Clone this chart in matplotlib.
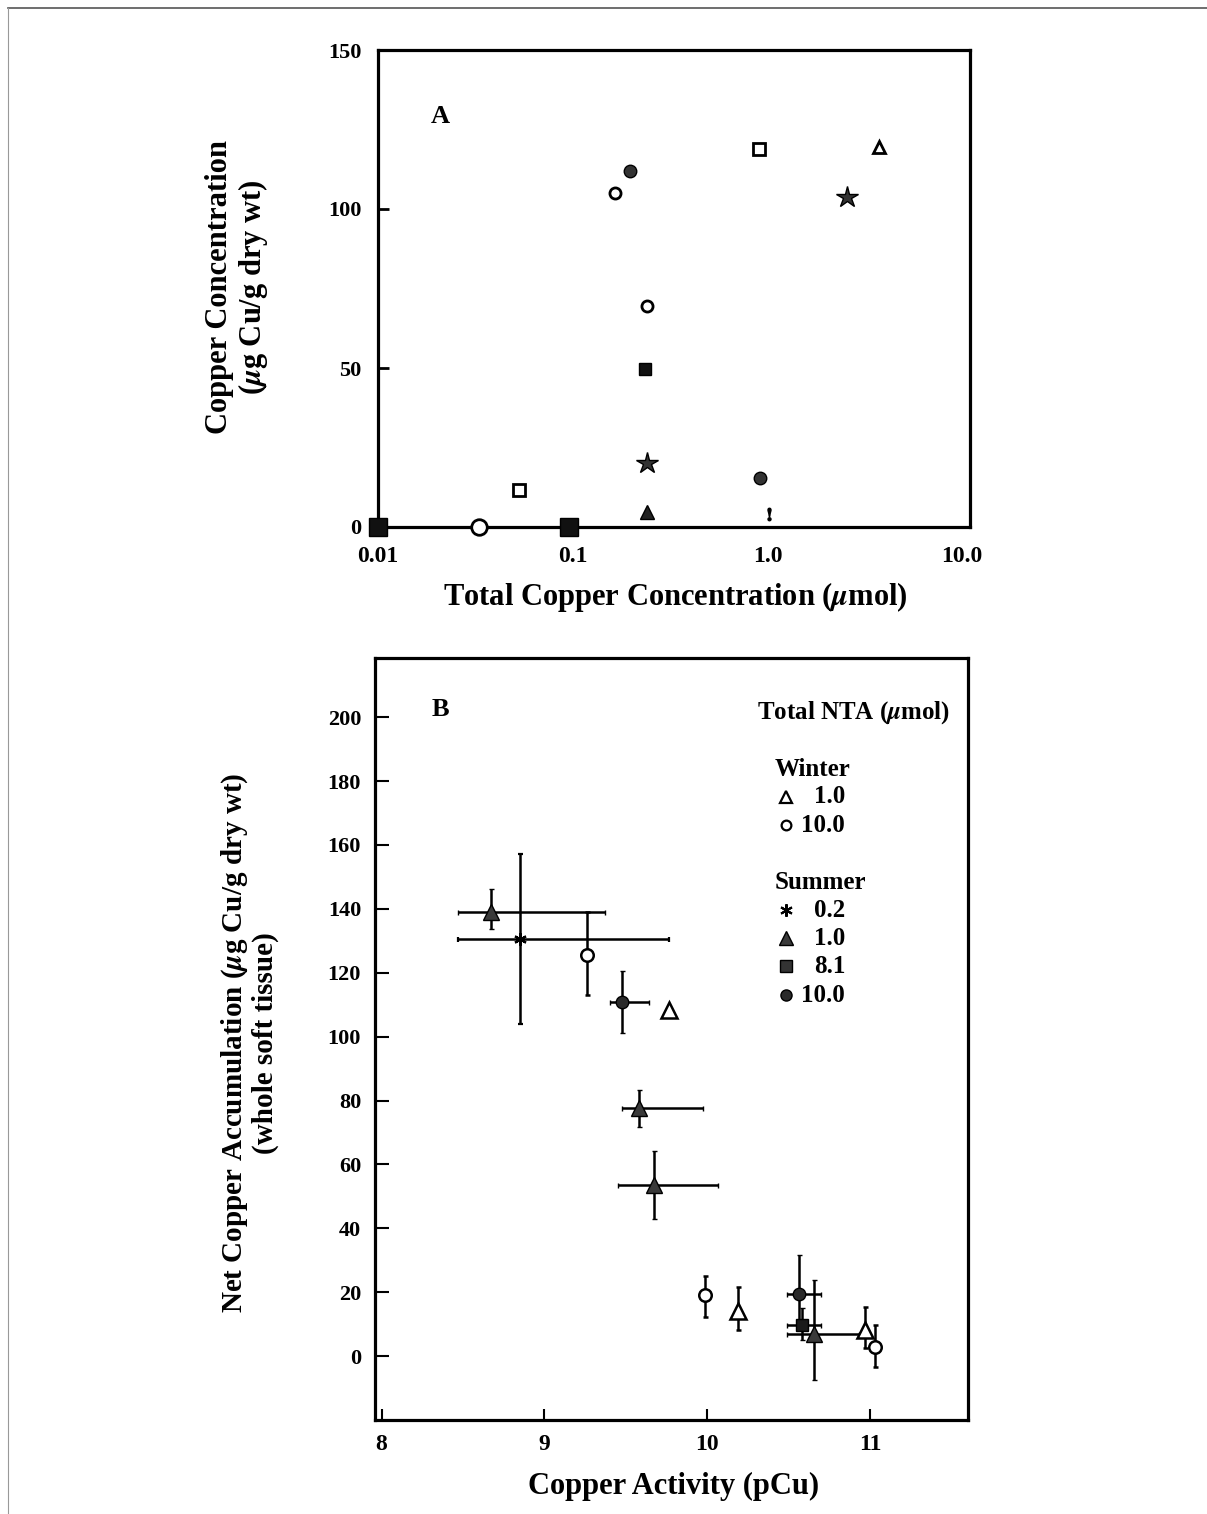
import numpy as np
import matplotlib
matplotlib.use("Agg")
import matplotlib.pyplot as plt
from matplotlib.lines import Line2D

plt.rcParams['font.family'] = ['Liberation Serif', 'DejaVu Serif']
plt.rcParams['font.weight'] = 'bold'
plt.rcParams['axes.labelweight'] = 'bold'
plt.rcParams['mathtext.fontset'] = 'stix'

# ---- Panel A data: tissue Cu vs total Cu (umol)
a_open_sq_x = [0.053, 0.90]
a_open_sq_y = [11.6, 118.9]
a_open_circ_x = [0.033, 0.165, 0.24]
a_open_circ_y = [0, 105, 69.5]
a_fill_sq_x = [0.01, 0.096, 0.236]
a_fill_sq_y = [0, 0, 49.7]
a_fill_circ_x = [0.197, 0.92]
a_fill_circ_y = [112, 15.4]
a_star_x = [0.24, 2.57]
a_star_y = [20, 103.8]
a_open_tri_x = [3.76]
a_open_tri_y = [119.5]
a_fill_tri_x = [0.24]
a_fill_tri_y = [4.7]
a_mark_x = [1.02]
a_mark_y = [4.1]

a_yticks = [0, 50, 100, 150]
a_xticks = [0.01, 0.1, 1.0, 10.0]
a_xticklabels = ['0.01', '0.1', '1.0', '10.0']

# ---- Panel B data: net Cu accumulation vs pCu
# summer 1.0 NTA (filled triangle)
s1_x = [8.673, 9.579, 9.675, 10.656]
s1_y = [139.1, 77.5, 53.5, 6.9]
s1_xlo = [8.468, 9.477, 9.45, 10.49]
s1_xhi = [9.374, 9.975, 10.063, 10.93]
s1_ylo = [133.6, 71.6, 42.8, -7.5]
s1_yhi = [146.1, 83.3, 64.3, 23.8]
# summer 0.2 NTA (star)
s02_x = [8.847]
s02_y = [130.4]
s02_xlo = [8.468]
s02_xhi = [9.763]
s02_ylo = [103.9]
s02_yhi = [157.1]
# summer 10.0 NTA (filled circle)
s10_x = [9.477, 10.56]
s10_y = [110.7, 19.3]
s10_xlo = [9.40, 10.49]
s10_xhi = [9.644, 10.70]
s10_ylo = [101.2, 10.3]
s10_yhi = [120.6, 31.6]
# summer 8.1 NTA (filled square)
s81_x = [10.58]
s81_y = [9.7]
s81_xlo = [10.49]
s81_xhi = [10.70]
s81_ylo = [5.0]
s81_yhi = [15.0]
# winter 10.0 NTA (open circle)
w10_x = [9.26, 9.988, 11.03]
w10_y = [125.5, 19.1, 2.9]
w10_ylo = [113.0, 12.3, -3.3]
w10_yhi = [139.1, 25.0, 9.7]
# winter 1.0 NTA (open triangle)
w1_x = [9.763, 10.19, 10.97]
w1_y = [108.3, 14.2, 8.1]
w1_ylo = [108.3, 8.1, 2.5]
w1_yhi = [108.3, 21.7, 15.4]

b_yticks = list(range(0, 201, 20))
b_xticks = [8, 9, 10, 11]

W, H = 1207, 1514
fig = plt.figure(figsize=(W / 100, H / 100), dpi=100)

# page frame lines
fig.add_artist(Line2D([8 / W, 1], [1 - 8 / H, 1 - 8 / H], color='#555555', lw=1.2))
fig.add_artist(Line2D([8 / W, 8 / W], [0, 1 - 8 / H], color='#999999', lw=0.8))


def style_axes(ax):
    for s in ax.spines.values():
        s.set_linewidth(2.3)
    ax.tick_params(labelsize=16)


# ================= Panel A
axA = fig.add_axes([378 / W, 1 - 527 / H, 592 / W, 477 / H])
style_axes(axA)
axA.set_xscale('log')
axA.set_xlim(0.01, 10.97)
axA.set_ylim(0, 150)

def pick(xs, ys, zero):
    xs, ys = np.array(xs), np.array(ys)
    m = (ys == 0) if zero else (ys != 0)
    return xs[m], ys[m]

kw = dict(ls='none', clip_on=False, zorder=5)
for zero, big in ((False, 1.0), (True, 1.4)):
    x, y = pick(a_open_sq_x, a_open_sq_y, zero)
    axA.plot(x, y, marker='s', ms=8 * big, mfc='white', mec='black', mew=2, **kw)
    x, y = pick(a_open_circ_x, a_open_circ_y, zero)
    axA.plot(x, y, marker='o', ms=8 * big, mfc='white', mec='black', mew=2, **kw)
    x, y = pick(a_fill_sq_x, a_fill_sq_y, zero)
    axA.plot(x, y, marker='s', ms=9 * big, mfc='#111111', mec='black', mew=1, **kw)
    x, y = pick(a_fill_circ_x, a_fill_circ_y, zero)
    axA.plot(x, y, marker='o', ms=9 * big, mfc='#333333', mec='black', mew=1, **kw)
axA.plot(a_star_x, a_star_y, marker='*', ms=16, mfc='#333333', mec='black', mew=1, **kw)
axA.plot(a_open_tri_x, a_open_tri_y, marker='^', ms=9, mfc='white', mec='black', mew=2, **kw)
axA.plot(a_fill_tri_x, a_fill_tri_y, marker='^', ms=10, mfc='#222222', mec='black', mew=1, **kw)
axA.plot(a_mark_x, a_mark_y, marker='$!$', ms=9, color='black', **kw)

axA.set_yticks(a_yticks)
axA.set_xticks(a_xticks)
axA.set_xticklabels(a_xticklabels)
axA.xaxis.set_minor_locator(matplotlib.ticker.NullLocator())
axA.tick_params(axis='y', direction='in', length=8, width=2, pad=12)
axA.tick_params(axis='x', direction='in', length=0, pad=14, labelsize=17)
axA.text(0.106, 0.86, 'A', transform=axA.transAxes, fontsize=19,
         ha='center', va='center')
axA.set_xlabel(r'Total Copper Concentration ($\mu$mol)', fontsize=22)
axA.xaxis.set_label_coords(0.502, -0.112)
axA.set_ylabel('Copper Concentration\n' + r'($\mu$g Cu/g dry wt)', fontsize=22,
               linespacing=1.1)
axA.yaxis.set_label_coords(-0.182, 0.503)

# ================= Panel B
axB = fig.add_axes([375 / W, 1 - 1420 / H, 593 / W, 762 / H])
style_axes(axB)
axB.set_xlim(7.96, 11.6)
axB.set_ylim(-20, 218.5)

def eb(ax, x, y, xlo=None, xhi=None, ylo=None, yhi=None, **mk):
    x, y = np.array(x), np.array(y)
    xerr = None if xlo is None else [x - np.array(xlo), np.array(xhi) - x]
    yerr = None if ylo is None else [y - np.array(ylo), np.array(yhi) - y]
    ax.errorbar(x, y, xerr=xerr, yerr=yerr, ls='none', ecolor='black',
                elinewidth=1.8, capsize=1.8, capthick=2.4, zorder=4, **mk)

eb(axB, s1_x, s1_y, s1_xlo, s1_xhi, s1_ylo, s1_yhi,
   marker='^', ms=11, mfc='#3a3a3a', mec='black', mew=1)
eb(axB, s02_x, s02_y, s02_xlo, s02_xhi, s02_ylo, s02_yhi,
   marker=(6, 2, 0), ms=9, mec='black', mew=1.6)
eb(axB, s10_x, s10_y, s10_xlo, s10_xhi, s10_ylo, s10_yhi,
   marker='o', ms=9, mfc='#2a2a2a', mec='black', mew=1)
eb(axB, s81_x, s81_y, s81_xlo, s81_xhi, s81_ylo, s81_yhi,
   marker='s', ms=9, mfc='#1a1a1a', mec='black', mew=1)
eb(axB, w10_x, w10_y, ylo=w10_ylo, yhi=w10_yhi,
   marker='o', ms=9, mfc='white', mec='black', mew=1.8)
eb(axB, w1_x, w1_y, ylo=w1_ylo, yhi=w1_yhi,
   marker='^', ms=11, mfc='white', mec='black', mew=1.8)

axB.set_yticks(b_yticks)
axB.set_xticks(b_xticks)
axB.tick_params(axis='y', direction='in', length=10, width=1.5, pad=10)
axB.tick_params(axis='x', direction='in', length=8, width=1.5, pad=10, labelsize=17)
axB.text(0.111, 0.932, 'B', transform=axB.transAxes, fontsize=19,
         ha='center', va='center')
axB.set_xlabel('Copper Activity (pCu)', fontsize=22)
axB.xaxis.set_label_coords(0.503, -0.068)
axB.set_ylabel(r'Net Copper Accumulation ($\mu$g Cu/g dry wt)' + '\n(whole soft tissue)',
               fontsize=21, linespacing=1.1)
axB.yaxis.set_label_coords(-0.162, 0.495)

# legend block
tr = axB.transAxes
lfs = 18
axB.text(0.9696, 0.928, r'Total NTA ($\mu$mol)', transform=tr, fontsize=lfs,
         ha='right', va='center')
axB.text(0.6745, 0.8543, 'Winter', transform=tr, fontsize=lfs, ha='left', va='center')
axB.text(0.6745, 0.706, 'Summer', transform=tr, fontsize=lfs, ha='left', va='center')
leg_items = [
    (0.8176, dict(marker='^', ms=9, mfc='white', mec='black', mew=1.6), '1.0'),
    (0.7808, dict(marker='o', ms=7, mfc='white', mec='black', mew=1.6), '10.0'),
    (0.669, dict(marker=(6, 2, 0), ms=9, mec='black', mew=1.5), '0.2'),
    (0.6325, dict(marker='^', ms=10, mfc='#3a3a3a', mec='black', mew=1), '1.0'),
    (0.5958, dict(marker='s', ms=8, mfc='#333333', mec='black', mew=1), '8.1'),
    (0.5577, dict(marker='o', ms=8, mfc='#2a2a2a', mec='black', mew=1), '10.0'),
]
for yy, mk, lab in leg_items:
    axB.plot([0.693], [yy], transform=tr, ls='none', clip_on=False, **mk)
    axB.text(0.7926, yy, lab, transform=tr, fontsize=lfs, ha='right', va='center')

fig.savefig('out.png', dpi=100)
